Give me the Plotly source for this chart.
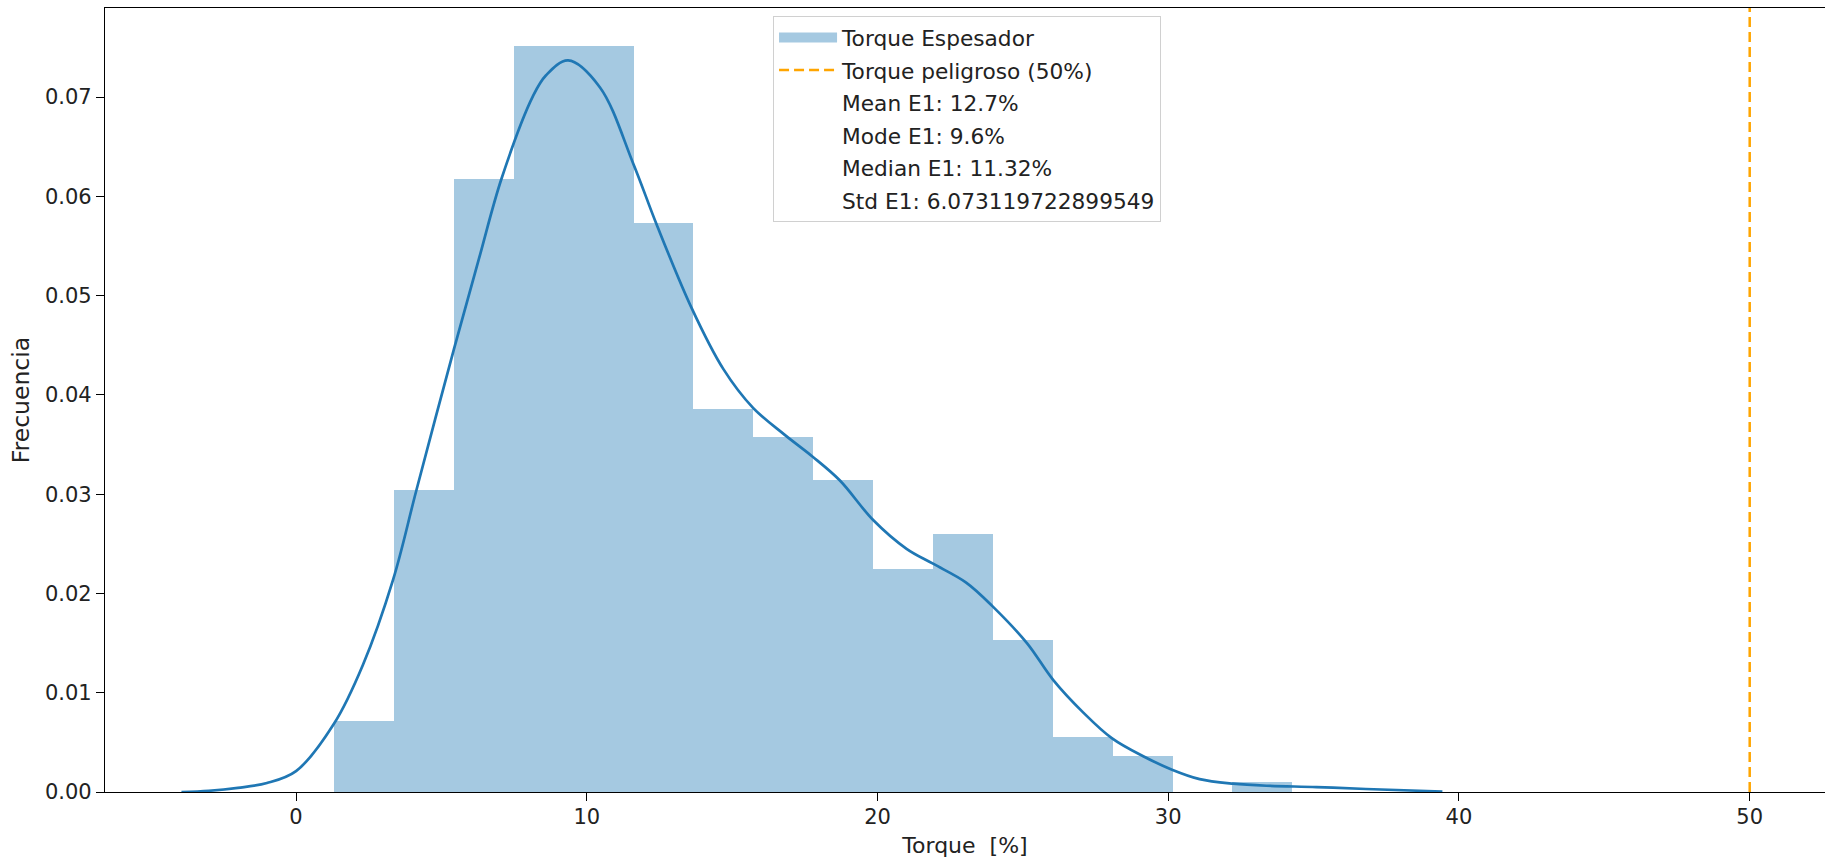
import plotly.graph_objects as go

# Histogram of the thickener torque (density-normalised bins)
bin_start = 1.31
bin_width = 2.06
densities = [0.0072, 0.0304, 0.0618, 0.0752, 0.0752, 0.0573, 0.0386, 0.0358,
             0.0314, 0.0225, 0.0260, 0.0153, 0.0055, 0.0036, 0.0, 0.0010]

# Kernel density estimate of the same torque sample
kde_x = [-3.94, -3.0, -2.0, -1.0, 0.0, 1.31, 2.3, 3.34, 4.14, 5.43, 6.3,
         7.07, 8.15, 8.6, 9.36, 10.45, 11.6, 12.4, 13.6, 14.7,
         15.72, 16.8, 17.76, 18.7, 19.85, 21.0, 21.91, 23.05, 23.96, 25.14,
         26.04, 27.08, 28.07, 29.14, 30.13, 31.08, 32.23, 33.38, 35.1, 36.8, 39.43]
kde_y = [0.0, 0.00012, 0.00042, 0.0009, 0.0021, 0.0069, 0.0128, 0.0214,
         0.0304, 0.0446, 0.0538, 0.0618, 0.0701, 0.0722, 0.0737,
         0.0710, 0.0633, 0.0572, 0.0488, 0.0426, 0.0387, 0.0360, 0.0338, 0.0314,
         0.0274, 0.0245, 0.0230, 0.0211, 0.0187, 0.0150, 0.0113, 0.0080, 0.0054,
         0.0036, 0.00225, 0.0013, 0.00084, 0.00063, 0.0005, 0.0003, 0.00005]

danger_torque = 50
stats_labels = ["Mean E1: 12.7%", "Mode E1: 9.6%", "Median E1: 11.32%",
                "Std E1: 6.073119722899549"]

x_ticks = [0, 10, 20, 30, 40, 50]
y_ticks = [0.0, 0.01, 0.02, 0.03, 0.04, 0.05, 0.06, 0.07]

FONT = "DejaVu Sans"
TEXT = "#222"
BLUE = "#1f77b4"
HIST_FILL = "rgba(31,119,180,0.4)"
ORANGE = "#ffa500"

bin_centers = [bin_start + bin_width * (i + 0.5) for i in range(len(densities))]

fig = go.Figure()

fig.add_trace(go.Bar(
    x=bin_centers, y=densities, width=[bin_width] * len(densities),
    marker=dict(color=HIST_FILL, line=dict(width=0)),
    showlegend=False, legendgroup="hist", hoverinfo="skip",
))
# legend entry for the histogram, drawn as a wide patch
fig.add_trace(go.Scatter(
    x=[None], y=[None], mode="lines", name="Torque Espesador",
    legendgroup="hist", line=dict(color=HIST_FILL, width=15),
))

fig.add_trace(go.Scatter(
    x=kde_x, y=kde_y, mode="lines", showlegend=False,
    line=dict(color=BLUE, width=2.7, shape="spline", smoothing=1.0),
))

fig.add_trace(go.Scatter(
    x=[danger_torque, danger_torque], y=[0, 1], yaxis="y2", mode="lines",
    name="Torque peligroso (50%)", legendgroup="danger",
    line=dict(color=ORANGE, width=2.5, dash="10px,5px"),
))

for i, label in enumerate(stats_labels):
    fig.add_trace(go.Scatter(
        x=[None], y=[None], mode="lines", name=label, legendgroup=f"stat{i}",
        line=dict(color="rgba(0,0,0,0)", width=0),
    ))

tick_font = dict(family=FONT, size=21, color=TEXT)

fig.update_layout(
    width=1825, height=860,
    margin=dict(l=105, r=0, t=8, b=68),
    paper_bgcolor="white", plot_bgcolor="white",
    font=dict(family=FONT, size=21, color=TEXT),
    bargap=0,
    showlegend=True,
    legend=dict(
        x=0.3884, y=0.9898, xanchor="left", yanchor="top",
        bgcolor="rgba(255,255,255,0.8)", bordercolor="#d0d0d0", borderwidth=1,
        font=dict(family=FONT, size=21.7, color=TEXT),
        itemwidth=58, traceorder="grouped", tracegroupgap=1.3,
    ),
    xaxis=dict(
        range=[-6.57, 52.59], tickvals=x_ticks, ticktext=[str(v) for v in x_ticks],
        showgrid=False, zeroline=False,
        showline=True, mirror=True, linecolor="black", linewidth=1.3,
        ticks="outside", ticklen=8, tickwidth=1.3, tickcolor="black",
        tickfont=tick_font, ticklabelstandoff=-2,
        title=dict(text="Torque\u00a0 [%]", font=dict(family=FONT, size=22, color=TEXT),
                   standoff=9),
    ),
    yaxis=dict(
        range=[0, 0.07898], tickvals=y_ticks, ticktext=[f"{v:.2f}" for v in y_ticks],
        showgrid=False, zeroline=False,
        showline=True, mirror=False, linecolor="black", linewidth=1.3,
        ticks="outside", ticklen=8, tickwidth=1.3, tickcolor="black",
        tickfont=tick_font,
        title=dict(text="Frecuencia", font=dict(family=FONT, size=23.5, color=TEXT),
                   standoff=8),
    ),
    yaxis2=dict(range=[0, 1], overlaying="y", visible=False, fixedrange=True),
)

fig.write_html("out.html")
